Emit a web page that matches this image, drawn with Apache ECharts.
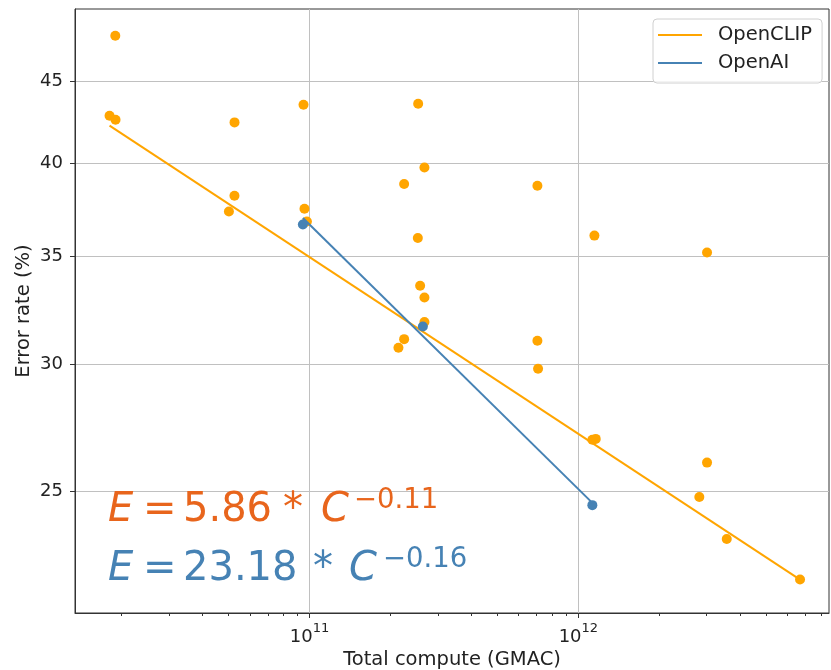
<!DOCTYPE html>
<html>
<head>
<meta charset="utf-8">
<script src="https://cdn.jsdelivr.net/npm/echarts@6/dist/echarts.min.js"></script>
<style>
  html, body { margin: 0; padding: 0; background: #fff; }
  #chart { width: 831px; height: 670px; }
</style>
</head>
<body>
<div id="chart"></div>
<script>
// OpenCLIP models: total compute (GMAC) and error rate (%)
const openclipCompute = [
  1.896e10, 1.805e10, 1.900e10, 5.263e10, 9.50e10, 2.536e11, 5.26e10, 5.016e10,
  9.58e10, 9.78e10, 2.249e11, 2.676e11, 7.04e11, 2.529e11, 1.147e12, 3.009e12,
  2.579e11, 2.676e11, 2.676e11, 2.249e11, 2.142e11, 7.04e11, 7.08e11, 1.127e12,
  1.16e12, 3.009e12, 2.817e12, 3.562e12, 6.672e12
];
const openclipError = [
  48.03, 42.83, 42.58, 42.42, 43.51, 43.57, 38.19, 37.34,
  37.49, 36.81, 38.84, 39.77, 38.74, 35.95, 36.07, 35.21,
  33.57, 33.01, 31.87, 31.10, 30.72, 31.03, 29.81, 26.93,
  26.96, 26.06, 24.81, 23.36, 22.04
];

// OpenAI CLIP models
const openaiCompute = [9.45e10, 2.64e11, 1.127e12];
const openaiError = [36.65, 31.67, 24.52];

// Fitted power laws, drawn across each family's compute range
const openclipFitCompute = [1.805e10, 6.672e12];
const openclipFitError = [42.22, 22.04];
const openaiFitCompute = [9.45e10, 1.127e12];
const openaiFitError = [36.99, 24.60];
const fitCoef = [5.86, 23.18];
const fitExp = [-0.11, -0.16];

// Axis ticks
const xMajorTicks = [1e11, 1e12];
const xMinorTicks = [
  2e10, 3e10, 4e10, 5e10, 6e10, 7e10, 8e10, 9e10,
  2e11, 3e11, 4e11, 5e11, 6e11, 7e11, 8e11, 9e11,
  2e12, 3e12, 4e12, 5e12, 6e12, 7e12, 8e12
];
const yTicks = [25, 30, 35, 40, 45];

const X_MIN = 1.3427e10, X_MAX = 8.55e12;
const Y_MIN = 21.01, Y_MAX = 49.9;

const ORANGE = '#ffa500';
const BLUE = '#4682b4';
const EQ_ORANGE = '#e8651c';
const FONT = '"DejaVu Sans", sans-serif';

const zip = (xs, ys) => xs.map((x, i) => [x, ys[i]]);
const expText = v => (v < 0 ? '\u2212' : '') + Math.abs(v).toFixed(2);

function equation(coef, exp, color, y, parts) {
  const big = 40, small = 27.5;
  const mk = (text, x, yy, size, italic) => ({
    type: 'text', x: x, y: yy, z: 100,
    style: {
      text: text, fill: color,
      font: (italic ? 'italic ' : '') + size + 'px ' + FONT,
      align: 'left', verticalAlign: 'middle',
      textAlign: 'left', textVerticalAlign: 'middle'
    }
  });
  return [
    mk('E', parts[0], y, big, true),
    mk('=', parts[1], y, big, false),
    mk(coef.toFixed(2), parts[2], y, big, false),
    mk('*', parts[3], y, big, false),
    mk('C', parts[4], y, big, true),
    mk(expText(exp), parts[5], y - 10, small, false)
  ];
}

const chart = echarts.init(document.getElementById('chart'), null, { renderer: 'canvas' });

const axisText = { color: '#222', fontFamily: FONT };

chart.setOption({
  animation: false,
  backgroundColor: '#fff',
  grid: {
    left: 75, right: 2, top: 9, bottom: 57,
    containLabel: false, outerBoundsMode: 'none',
    show: true, borderColor: '#333', borderWidth: 1, backgroundColor: 'transparent'
  },
  legend: {
    orient: 'vertical',
    left: 653, top: 19,
    padding: [6, 10, 10, 5],
    itemGap: 8,
    itemWidth: 44, itemHeight: 2,
    backgroundColor: 'rgba(255,255,255,0.8)',
    borderColor: '#d0d0d0', borderWidth: 1, borderRadius: 4,
    textStyle: { fontSize: 19.5, color: '#222', fontFamily: FONT, padding: [0, 0, 0, 11] },
    data: [
      { name: 'OpenCLIP', icon: 'rect' },
      { name: 'OpenAI', icon: 'rect' }
    ]
  },
  xAxis: [
    {
      type: 'log', logBase: 10, min: X_MIN, max: X_MAX,
      name: 'Total compute (GMAC)', nameLocation: 'middle', nameGap: 37,
      nameMoveOverlap: false,
      nameTextStyle: Object.assign({ fontSize: 19.5 }, axisText),
      axisLine: { show: true, lineStyle: { color: '#333', width: 1 } },
      axisTick: { show: true, customValues: xMajorTicks, length: 5, lineStyle: { color: '#333', width: 1 } },
      axisLabel: {
        customValues: xMajorTicks, margin: 9,
        formatter: v => '{b|10}{s|' + Math.round(Math.log10(v)) + '}',
        rich: {
          b: { fontSize: 18, lineHeight: 24, verticalAlign: 'bottom', color: '#222', fontFamily: FONT },
          s: { fontSize: 13, lineHeight: 13, verticalAlign: 'top', color: '#222', fontFamily: FONT }
        }
      },
      splitLine: { show: true, lineStyle: { color: '#c0c0c0', width: 1 } }
    },
    {
      type: 'log', logBase: 10, min: X_MIN, max: X_MAX, position: 'bottom',
      axisLine: { show: false },
      axisTick: { show: true, customValues: xMinorTicks, length: 3, lineStyle: { color: '#333', width: 1 } },
      axisLabel: { show: false },
      splitLine: { show: false }
    }
  ],
  yAxis: {
    type: 'log', logBase: 10, min: Y_MIN, max: Y_MAX,
    name: 'Error rate (%)', nameLocation: 'middle', nameGap: 41,
    nameMoveOverlap: false,
    nameTextStyle: Object.assign({ fontSize: 19.5 }, axisText),
    axisLine: { show: true, lineStyle: { color: '#333', width: 1 } },
    axisTick: { show: true, customValues: yTicks, length: 5, lineStyle: { color: '#333', width: 1 } },
    axisLabel: Object.assign({ customValues: yTicks, margin: 12, fontSize: 18, formatter: v => String(Math.round(v)) }, axisText),
    splitLine: { show: true, lineStyle: { color: '#c0c0c0', width: 1 } }
  },
  series: [
    {
      name: 'OpenCLIP models', type: 'scatter', xAxisIndex: 0,
      data: zip(openclipCompute, openclipError),
      symbolSize: 10, itemStyle: { color: ORANGE, opacity: 1 }, z: 2
    },
    {
      name: 'OpenCLIP', type: 'line', xAxisIndex: 0,
      data: zip(openclipFitCompute, openclipFitError),
      showSymbol: false, symbol: 'none',
      lineStyle: { color: ORANGE, width: 2 }, itemStyle: { color: ORANGE }, z: 3
    },
    {
      name: 'OpenAI models', type: 'scatter', xAxisIndex: 0,
      data: zip(openaiCompute, openaiError),
      symbolSize: 10, itemStyle: { color: BLUE, opacity: 1 }, z: 4
    },
    {
      name: 'OpenAI', type: 'line', xAxisIndex: 0,
      data: zip(openaiFitCompute, openaiFitError),
      showSymbol: false, symbol: 'none',
      lineStyle: { color: BLUE, width: 2 }, itemStyle: { color: BLUE }, z: 5
    }
  ],
  graphic: [].concat(
    equation(fitCoef[0], fitExp[0], EQ_ORANGE, 511, [108, 143, 183, 283, 321, 354]),
    equation(fitCoef[1], fitExp[1], BLUE, 570, [108, 143, 183, 313, 349, 383])
  )
});
</script>
</body>
</html>
